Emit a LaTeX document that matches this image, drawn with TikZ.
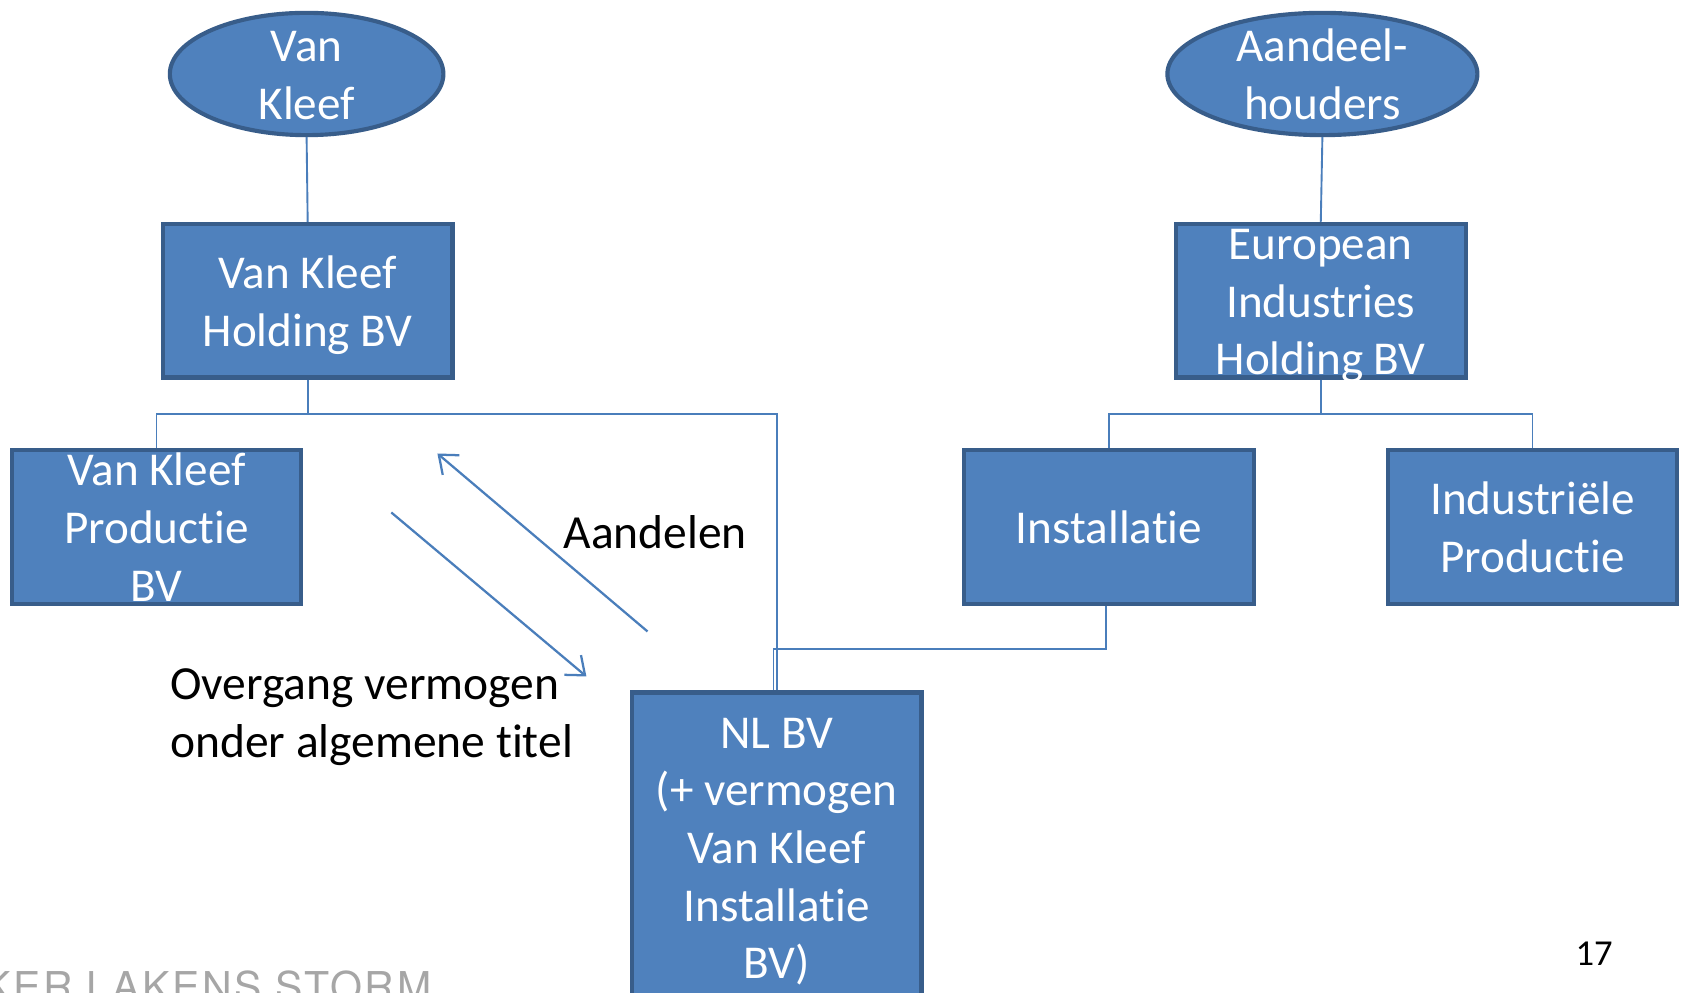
\documentclass[tikz,border=0pt]{standalone}
\usepackage{fontspec}
\setmainfont{Carlito}[Ligatures=NoCommon]
\newfontfamily\logofont[LetterSpace=6]{TeX Gyre Heros}
\usetikzlibrary{shapes.geometric,arrows.meta}
\definecolor{boxblue}{HTML}{4F81BD}
\definecolor{boxedge}{HTML}{385D8A}
\definecolor{linkblue}{HTML}{4A7EBB}
\definecolor{logogray}{HTML}{A6A6A6}
\newcommand{\boxtext}[1]{\smash{\raisebox{-4.3pt}{\begin{tabular}{@{}c@{}}#1\end{tabular}}}}

\begin{document}
\begin{tikzpicture}[x=0.01cm,y=-0.01cm,
		entity/.style={rectangle, draw=boxedge, fill=boxblue, line width=1.1pt, inner sep=0pt,
			minimum width=2.7cm, minimum height=1.43cm, text=white, font=\fontsize{12.5}{15.3}\selectfont},
		owner/.style={ellipse, draw=boxedge, fill=boxblue, line width=1.1pt, inner sep=0pt,
			minimum height=1.14cm, text=white, font=\fontsize{12.5}{15.3}\selectfont},
		link/.style={draw=linkblue, line width=0.5pt},
		flow/.style={draw=linkblue, line width=0.6pt, -{Straight Barb[length=1.5mm,width=2.4mm]}},
		caption/.style={inner sep=0pt, font=\fontsize{12.6}{15.3}\selectfont}]
		%%%%% START %%%%%
		\clip (0,0) rectangle (1568,926);
		\fill[white] (0,0) rectangle (1568,926);
		
		% owners
		\node[owner, minimum width=2.55cm] (vk) at (286,69) {\boxtext{Van\\Kleef}};
		\node[owner, minimum width=2.89cm] (aandh) at (1233.5,69) {\boxtext{Aandeel-\\houders}};
		
		% companies
		\node[entity] (vkh) at (287,280.5) {\boxtext{Van Kleef\\Holding BV}};
		\node[entity] (eih) at (1232,280.5) {\boxtext{European\\Industries\\Holding BV}};
		\node[entity] (vkp) at (146,491.5) {\boxtext{Van Kleef\\Productie\\BV}};
		\node[entity] (inst) at (1034.5,491.5) {\boxtext{Installatie}};
		\node[entity] (ip) at (1429.5,491.5) {\boxtext{Industriële\\Productie}};
		\node[entity, minimum height=2.88cm] (nlbv) at (724.5,790) {\boxtext{NL BV\\(+ vermogen\\Van Kleef\\Installatie\\BV)}};
		
		\coordinate (lbus) at (0,386);
		\coordinate (ibus) at (0,605);
		
		% lines
		\draw[link] (vk.south) -- (vkh.north);
		\draw[link] (vkh.south) -- (vkh.south |- lbus) -| (vkp.north);
		\draw[link] (vkh.south |- lbus) -| (nlbv.north);
		\draw[link] ([xshift=-0.03cm]inst.south) -- ([xshift=-0.03cm]inst.south |- ibus) -| ([xshift=-0.03cm]nlbv.north);
		\draw[link] (aandh.south) -- (eih.north);
		\draw[link] (eih.south) -- (eih.south |- lbus) -| (inst.north);
		\draw[link] (eih.south |- lbus) -| (ip.north);
		
		% arrows
		\coordinate (shares0) at (604,589);
		\coordinate (shares1) at (408,423);
		\coordinate (assets0) at (365,478);
		\coordinate (assets1) at (547,631);
		\draw[flow] (shares0) -- (shares1);
		\draw[flow] (assets0) -- (assets1);
		
		\node[caption, anchor=base west] (shareslbl) at (525,512) {Aandelen};
		\node[caption, anchor=west, align=left] (assetslbl) at (158,669) {Overgang vermogen\\onder algemene titel};
		
		\node[inner sep=0pt, font=\fontsize{9.7}{11}\selectfont] (pagenr) at (1487,890) {17};
		\node[inner sep=0pt, anchor=base east, text=logogray, font=\logofont\fontsize{10.9}{12}\selectfont] (logo) at (403,934) {KER LAKENS STORM};
		%%%%% END %%%%%
	\end{tikzpicture}
\end{document}
